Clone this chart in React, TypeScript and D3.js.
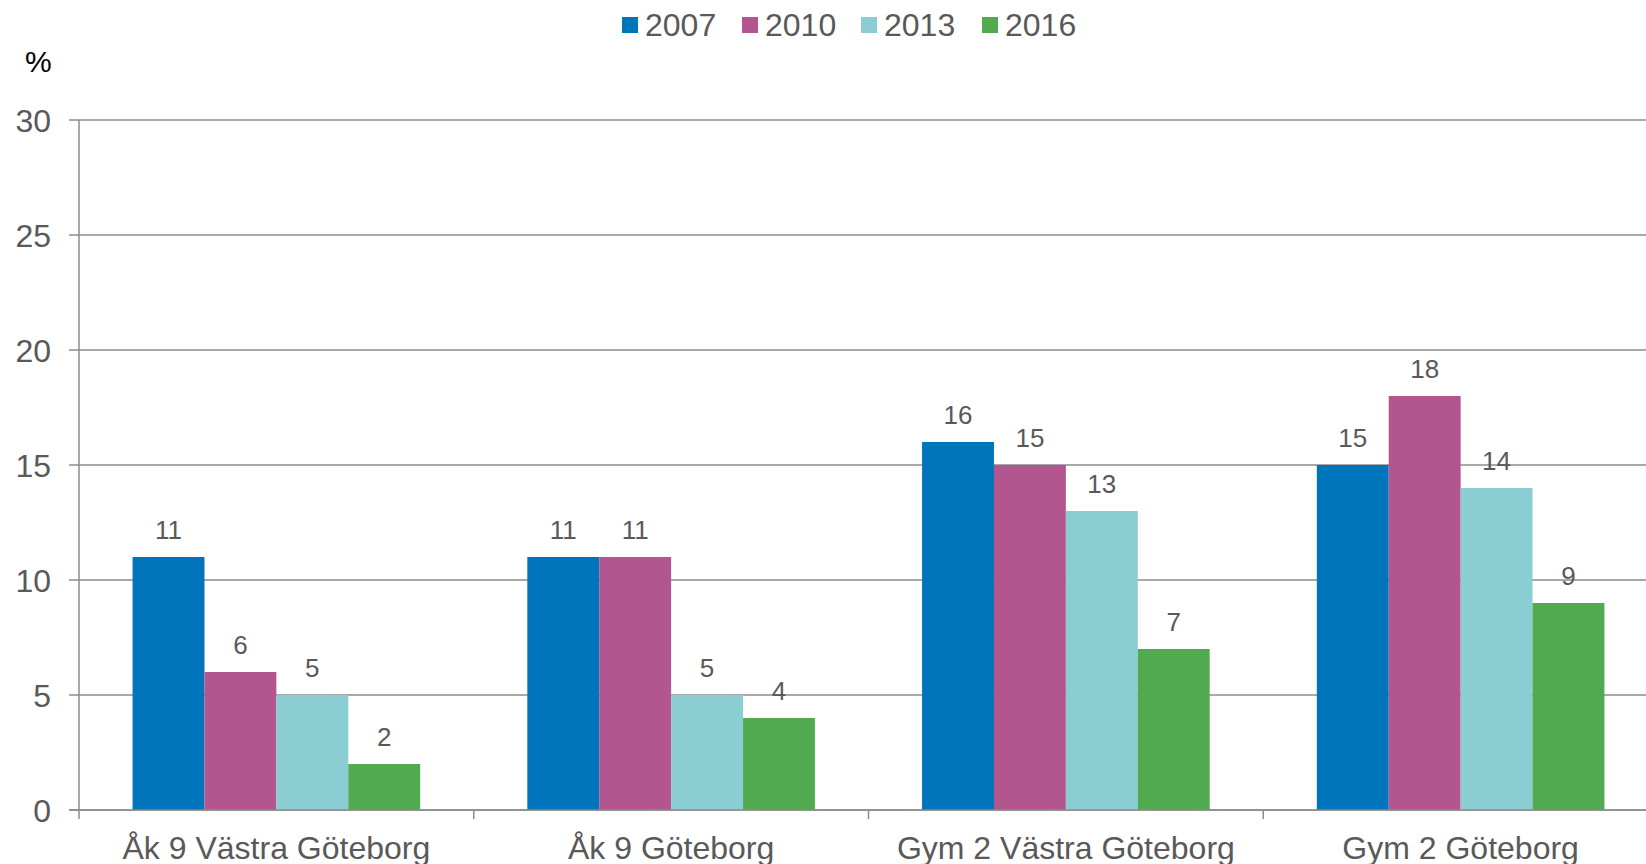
import React, { useRef, useEffect } from 'react';
import * as d3 from 'd3';

const categories = ['Åk 9 Västra Göteborg', 'Åk 9 Göteborg', 'Gym 2 Västra Göteborg', 'Gym 2 Göteborg'];
const years = ['2007', '2010', '2013', '2016'];
const values2007 = [11, 11, 16, 15];
const values2010 = [6, 11, 15, 18];
const values2013 = [5, 5, 13, 14];
const values2016 = [2, 4, 7, 9];
const yTicks = [0, 5, 10, 15, 20, 25, 30];
const colors = ['#0075bb', '#b35690', '#8acdd2', '#52aa50'];

const App = () => {
  const svgRef = useRef<SVGSVGElement>(null);

  useEffect(() => {
    const svg = d3.select(svgRef.current);
    svg.selectAll('*').remove();

    const width = 1646;
    const height = 864;
    const font = '"Liberation Sans", Arial, sans-serif';
    const series = [values2007, values2010, values2013, values2016];

    const x = d3.scaleBand().domain(categories).range([79, 1658]).padding(0);
    const xInner = d3.scaleBand().domain(years).range([0, x.bandwidth()]).paddingInner(0).paddingOuter(0.745);
    const y = d3.scaleLinear().domain([0, 30]).range([810, 120]);

    // gridlines
    svg.append('g')
      .selectAll('line')
      .data(yTicks)
      .enter().append('line')
      .attr('x1', 69)
      .attr('x2', width)
      .attr('y1', d => y(d))
      .attr('y2', d => y(d))
      .attr('stroke', '#8c8c8c')
      .attr('stroke-width', 1.5);

    // y axis line
    svg.append('line')
      .attr('x1', 79).attr('x2', 79)
      .attr('y1', y(30)).attr('y2', y(0))
      .attr('stroke', '#8c8c8c').attr('stroke-width', 1.5);

    // y tick labels
    svg.append('g')
      .selectAll('text')
      .data(yTicks)
      .enter().append('text')
      .attr('x', 51)
      .attr('y', d => y(d))
      .attr('dy', '0.36em')
      .attr('text-anchor', 'end')
      .attr('font-family', font)
      .attr('font-size', 32)
      .attr('fill', '#595959')
      .text(d => d);

    svg.append('text')
      .attr('x', 25).attr('y', 72)
      .attr('font-family', font)
      .attr('font-size', 30)
      .attr('fill', '#000')
      .text('%');

    // bars
    const groups = svg.append('g')
      .selectAll('g')
      .data(categories)
      .enter().append('g')
      .attr('transform', d => `translate(${x(d)},0)`);

    const cells = (c: string) => years.map((yr, si) => ({ yr, si, v: series[si][categories.indexOf(c)] }));

    groups.selectAll('rect')
      .data(c => cells(c))
      .enter().append('rect')
      .attr('x', d => xInner(d.yr)!)
      .attr('y', d => y(d.v))
      .attr('width', xInner.bandwidth())
      .attr('height', d => y(0) - y(d.v))
      .attr('fill', d => colors[d.si]);

    groups.selectAll('text')
      .data(c => cells(c))
      .enter().append('text')
      .attr('x', d => xInner(d.yr)! + xInner.bandwidth() / 2)
      .attr('y', d => y(d.v) - 18)
      .attr('text-anchor', 'middle')
      .attr('font-family', font)
      .attr('font-size', 26)
      .attr('fill', '#595959')
      .text(d => d.v);

    // x axis
    svg.append('line')
      .attr('x1', 69).attr('x2', width)
      .attr('y1', y(0)).attr('y2', y(0))
      .attr('stroke', '#8c8c8c').attr('stroke-width', 1.5);

    svg.append('g')
      .selectAll('line')
      .data(d3.range(categories.length + 1))
      .enter().append('line')
      .attr('x1', i => 79 + i * x.step())
      .attr('x2', i => 79 + i * x.step())
      .attr('y1', y(0))
      .attr('y2', y(0) + 9)
      .attr('stroke', '#8c8c8c').attr('stroke-width', 1.5);

    svg.append('g')
      .selectAll('text')
      .data(categories)
      .enter().append('text')
      .attr('x', d => x(d)! + x.bandwidth() / 2)
      .attr('y', 859)
      .attr('text-anchor', 'middle')
      .attr('font-family', font)
      .attr('font-size', 32)
      .attr('fill', '#595959')
      .text(d => d);

    // legend
    const legendX = [622, 742, 861, 982];
    const legend = svg.append('g')
      .selectAll('g')
      .data(years)
      .enter().append('g')
      .attr('transform', (d, i) => `translate(${legendX[i]},17)`);

    legend.append('rect')
      .attr('width', 16).attr('height', 16)
      .attr('fill', (d, i) => colors[i]);

    legend.append('text')
      .attr('x', 23).attr('y', 19)
      .attr('font-family', font)
      .attr('font-size', 32)
      .attr('fill', '#595959')
      .text(d => d);

    svg.attr('width', width).attr('height', height);
  }, []);

  return (
    <svg ref={svgRef} width="1646" height="864" style={{ position: 'absolute', left: 0, top: 0, background: '#fff' }}></svg>
  );
};

export default App;
